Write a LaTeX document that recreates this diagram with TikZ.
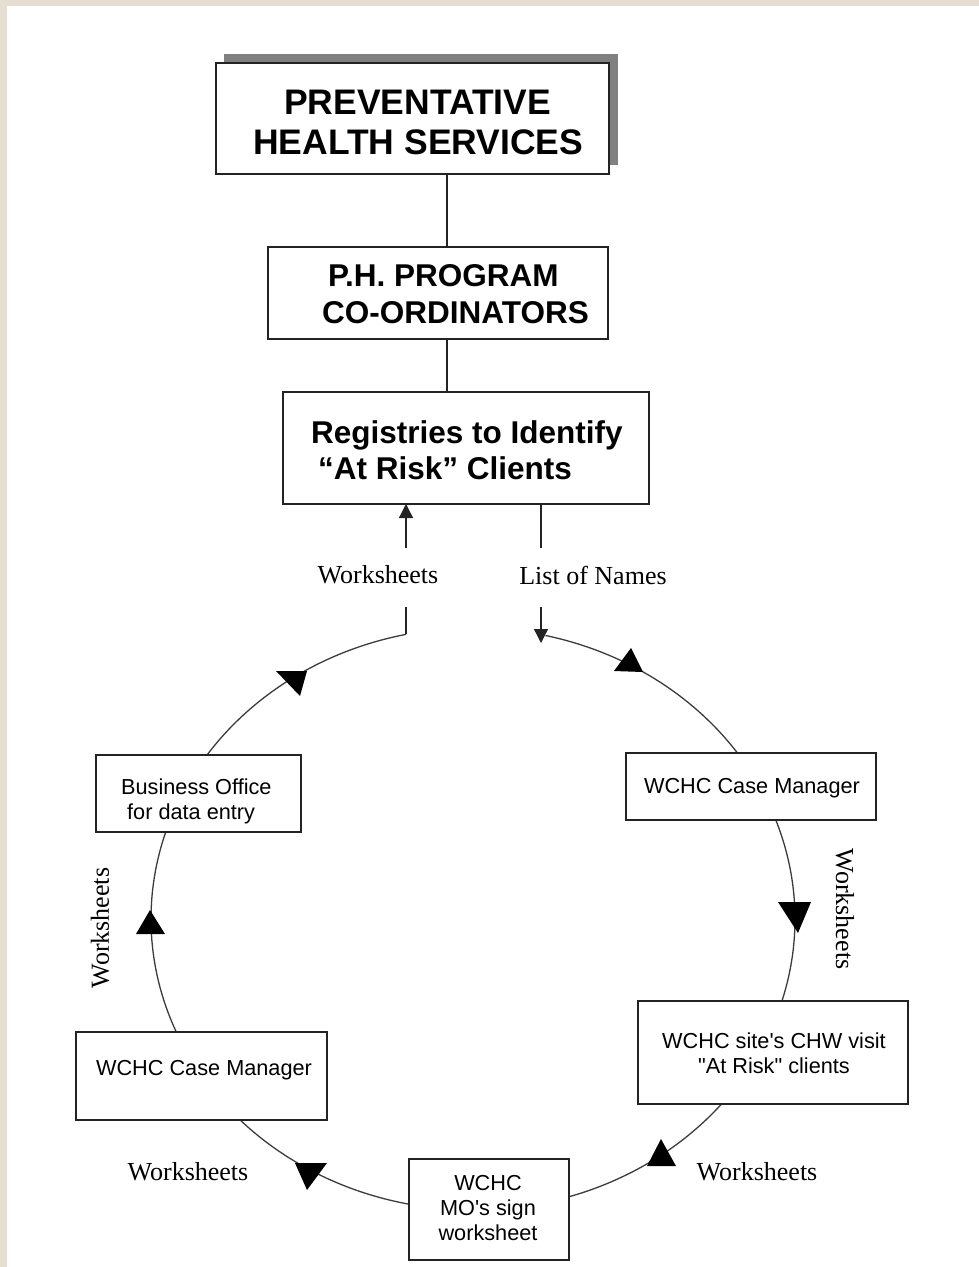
\documentclass[tikz,border=0pt]{standalone}
\usepackage{fontspec}
\setmainfont{Liberation Serif}
\newfontfamily\arialf{Liberation Sans}
\usetikzlibrary{arrows.meta}
\definecolor{beige}{RGB}{229,222,209}
\definecolor{shadowgray}{RGB}{128,128,128}
\definecolor{boxline}{RGB}{35,35,35}
\definecolor{ringline}{RGB}{60,60,60}
\tikzset{
  box/.style={draw=boxline, line width=1.4pt, fill=white, inner sep=0pt, outer sep=0pt},
  titletext/.style={font=\arialf\bfseries\fontsize{35.5}{40}\selectfont, align=left, inner sep=0pt},
  midtext/.style={font=\arialf\bfseries\fontsize{31.5}{36.5}\selectfont, align=left, inner sep=0pt},
  smalltext/.style={font=\arialf\fontsize{21.7}{25}\selectfont, align=center, inner sep=0pt},
  seriflabel/.style={font=\fontsize{26}{30}\selectfont, inner sep=0pt},
  link/.style={draw=boxline, line width=1.3pt},
  arr/.style={link, -{Triangle[length=14pt,width=14pt]}},
  ring/.style={draw=ringline, line width=1.3pt},
  tri/.style={fill=black}
}
\begin{document}
\begin{tikzpicture}[x=1pt,y=-1pt]
% background
\fill[beige] (0,0) rectangle (979,1267);
\fill[white] (7,6) rectangle (979,1267);
\useasboundingbox (0,0) rectangle (979,1267);

% ring (drawn first, boxes cover it)
\draw[ring] plot[domain=77:-258, samples=400, smooth] ({473+322*cos(\x)},{919-291*sin(\x)});

% top boxes
\fill[shadowgray] (224,54) rectangle (618,165);
\node[box, minimum width=393pt, minimum height=111pt] (phs) at (412.5,118.5) {};
\node[titletext, anchor=west] (phst) at (253,122) {\hspace{31pt}PREVENTATIVE\\HEALTH SERVICES};

\node[box, minimum width=340pt, minimum height=92pt] (ph) at (438,293) {};
\node[midtext, anchor=west] (pht) at (322,294) {\hspace{6pt}P.H. PROGRAM\\CO-ORDINATORS};

\node[box, minimum width=366pt, minimum height=112pt] (reg) at (466,448) {};
\node[midtext, anchor=west] (regt) at (311,450) {Registries to Identify\\\hspace{7pt}“At Risk” Clients};

\draw[link] (447,0 |- phs.south) -- (447,0 |- ph.north);
\draw[link] (447,0 |- ph.south) -- (447,0 |- reg.north);

% registry connectors
\coordinate (wsTop) at (406,548);
\coordinate (wsBot) at (406,607);
\coordinate (arcL) at (406,634);
\coordinate (lnTop) at (541,548);
\coordinate (lnBot) at (541,607);
\coordinate (arcR) at (541,643);
\draw[arr] (wsTop) -- (406,0 |- reg.south);
\draw[link] (541,0 |- reg.south) -- (lnTop);
\draw[link] (wsBot) -- (arcL);
\draw[arr] (lnBot) -- (arcR);
\node[seriflabel] (wsl) at (378,575) {Worksheets};
\node[seriflabel] (lnl) at (593,575) {List of Names};

% cycle boxes
\node[box, minimum width=205pt, minimum height=77pt] (bo) at (198.5,793.5) {};
\node[smalltext, align=left, anchor=west] (bot) at (121,801) {Business Office\\\hspace{6pt}for data entry};

\node[box, minimum width=250pt, minimum height=67pt] (cmr) at (751,786.5) {};
\node[smalltext] (cmrt) at (752,788) {WCHC Case Manager};

\node[box, minimum width=270pt, minimum height=103pt] (chw) at (773,1052.5) {};
\node[smalltext] (chwt) at (774,1053) {WCHC site's CHW visit\\"At Risk" clients};

\node[box, minimum width=160pt, minimum height=101pt] (mo) at (489,1209.5) {};
\node[smalltext] (mot) at (488,1208) {WCHC\\MO's sign\\worksheet};

\node[box, minimum width=251pt, minimum height=88pt] (cml) at (201.5,1076) {};
\node[smalltext] (cmlt) at (204,1070) {WCHC Case Manager};

% triangles on the ring
\fill[tri] (631,648) -- (614,671) -- (643,672) -- cycle;
\fill[tri] (276,671) -- (307,671) -- (300,696) -- cycle;
\fill[tri] (778,902) -- (811,902) -- (798,933) -- cycle;
\fill[tri] (150,910) -- (136,934) -- (165,934) -- cycle;
\fill[tri] (295,1163) -- (327,1163) -- (307,1190) -- cycle;
\fill[tri] (661,1139) -- (647,1166) -- (676,1166) -- cycle;

% ring labels
\node[seriflabel, rotate=-90] (wsr) at (845,909) {Worksheets};
\node[seriflabel, rotate=90] (wsle) at (100,928) {Worksheets};
\node[seriflabel] (wsbl) at (188,1172) {Worksheets};
\node[seriflabel] (wsbr) at (757,1172) {Worksheets};
\end{tikzpicture}
\end{document}
